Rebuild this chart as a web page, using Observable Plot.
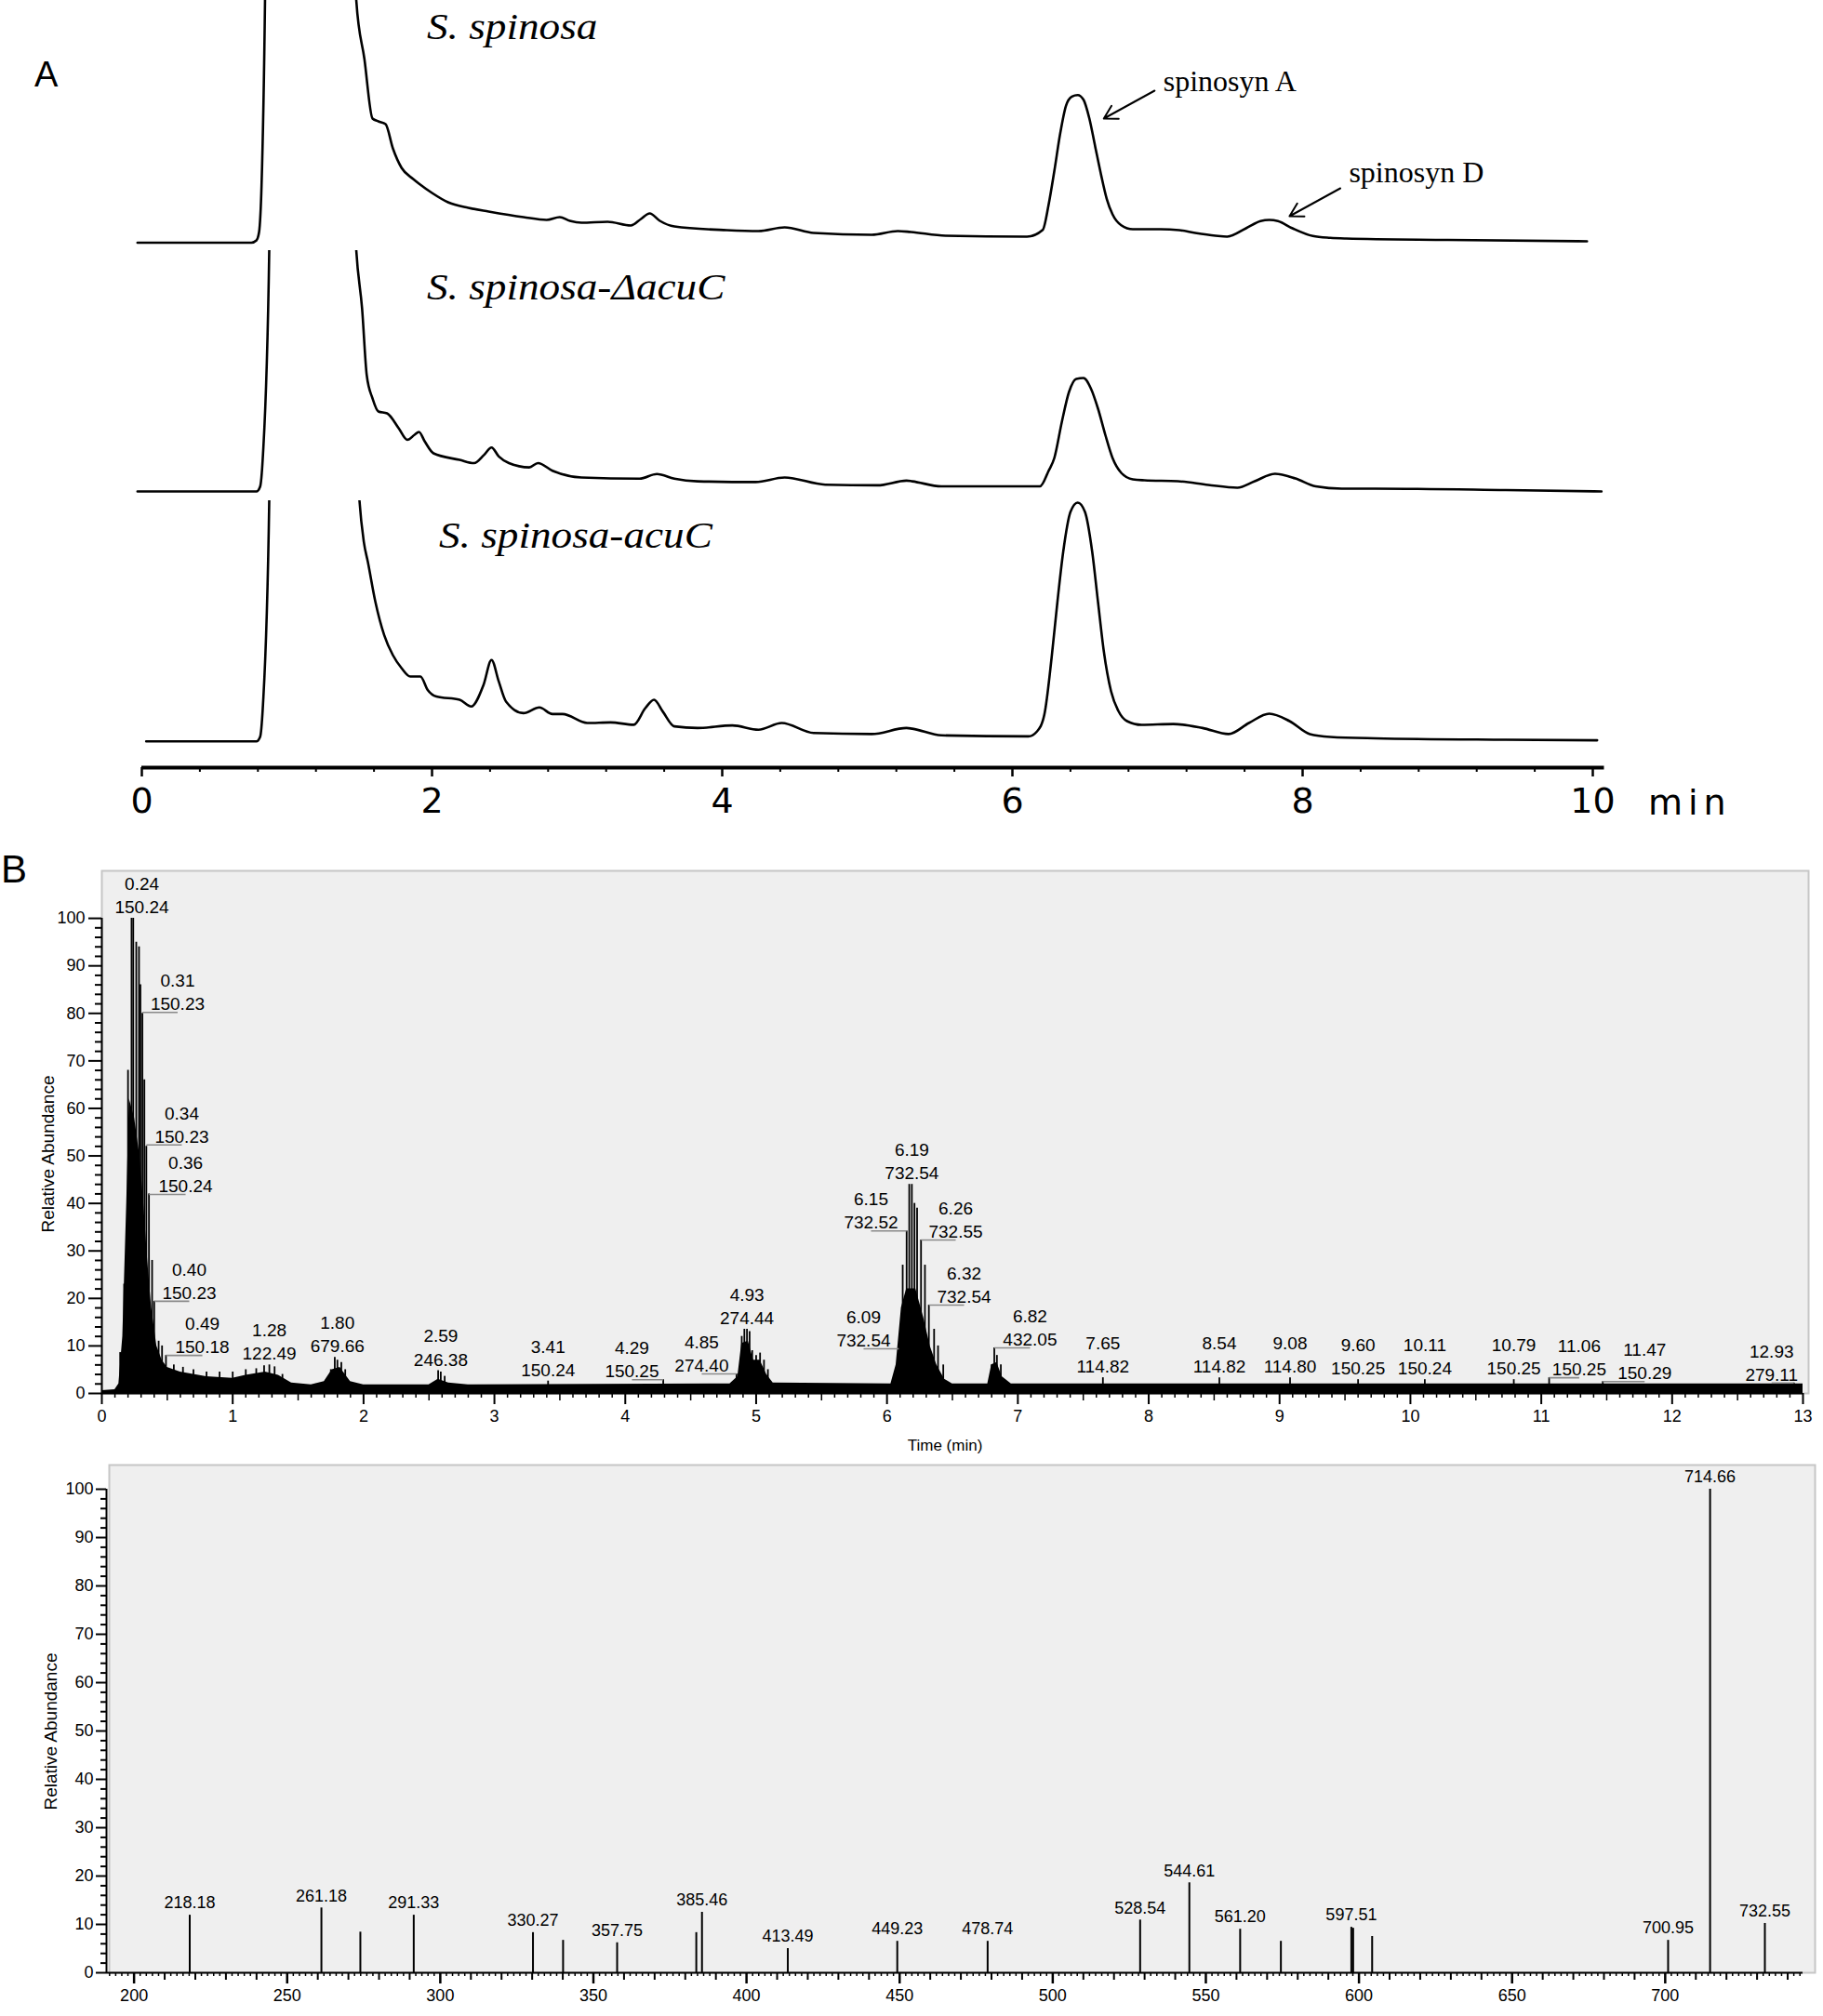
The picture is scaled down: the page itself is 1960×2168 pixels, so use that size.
<!DOCTYPE html>
<html>
<head>
<meta charset="utf-8">
<script src="https://cdn.jsdelivr.net/npm/d3@7"></script>
<script src="https://cdn.jsdelivr.net/npm/@observablehq/plot@0.6"></script>
<style>
html, body { margin: 0; padding: 0; background: #fff; }
#root { position: relative; width: 1960px; height: 2168px; overflow: hidden; background: #fff; }
#root svg { position: absolute; }
.lbl { position: absolute; white-space: nowrap; line-height: 1; color: #000; }
</style>
</head>
<body>
<div id="root"></div>
<script>
// ---------------- Panel A data (HPLC traces) ----------------
const traceNames = ["S. spinosa", "S. spinosa-\u0394acuC", "S. spinosa-acuC"];

const trace1Time = [-0.03,0.755,0.79,0.808,0.825,0.849,0.87,1.40,1.478,1.534,1.59,1.63,1.68,1.73,1.79,1.87,1.91,2.0,2.11,2.25,2.39,2.63,2.79,2.88,2.95,3.03,3.21,3.37,3.44,3.50,3.57,3.67,4.03,4.25,4.43,4.63,5.03,5.21,5.30,5.54,6.10,6.209,6.249,6.289,6.329,6.369,6.41,6.45,6.49,6.53,6.57,6.61,6.65,6.69,6.75,6.83,7.02,7.15,7.26,7.40,7.48,7.61,7.71,7.77,7.83,7.93,8.07,8.19,8.30,9.0,9.96];
const trace1Signal = [-1.5,-1.5,1,10,60,259,600,600,259,196,132,129,126,100,79,67,62,52,42,36,32,26,23,26,22,20,21,17,24,30,22,16,12,11,15,9,7,11,10,6,5,12.3,39,75.7,115.7,145.7,155.7,157.3,152.3,132.3,102.3,72.3,45.7,29,17.3,13,13,12,9,6,5,14,21.7,23,21.7,14,5.7,3.7,3,1.5,0];

const trace2Time = [-0.03,0.79,0.815,0.835,0.878,0.90,1.40,1.478,1.518,1.55,1.59,1.63,1.69,1.77,1.83,1.88,1.91,1.95,2.01,2.19,2.29,2.359,2.41,2.46,2.53,2.67,2.73,2.83,3.03,3.43,3.55,3.67,3.83,4.23,4.43,4.71,5.07,5.27,5.31,5.51,6.19,6.249,6.289,6.341,6.39,6.44,6.49,6.54,6.59,6.64,6.69,6.75,6.83,6.91,7.14,7.35,7.55,7.67,7.81,7.95,8.09,8.27,8.5,9.4,10.06];
const trace2Signal = [0,0,5,40,259,600,600,259,196.6,125,100,86,84,68,55.5,61,64,53.7,41,34,30.5,39.4,47.3,37.6,30.5,25.9,30.5,22.3,15,13.7,18.7,13.7,10.9,10.1,15,7.3,6.6,11.6,10.9,5.5,5.5,22,36,75,107,121,122,111,89,61,36,20,13,12,11,7,4,11,19,14,5.5,3,3,1.5,0];

const trace3Time = [0.03,0.79,0.815,0.835,0.878,0.90,1.42,1.50,1.53,1.558,1.61,1.67,1.73,1.79,1.85,1.92,1.97,2.03,2.19,2.27,2.355,2.41,2.46,2.51,2.63,2.74,2.83,2.90,3.07,3.23,3.39,3.47,3.53,3.59,3.67,3.83,4.07,4.25,4.41,4.63,5.03,5.27,5.31,5.51,6.11,6.17,6.22,6.27,6.31,6.35,6.40,6.45,6.50,6.55,6.59,6.63,6.68,6.73,6.79,6.89,7.11,7.31,7.49,7.63,7.77,7.91,8.05,8.19,8.5,9.4,10.03];
const trace3Signal = [0.3,0.3,5,40,259,600,600,259,214.6,193,150,114.6,93,79,70,70,55.6,48.5,45,37.8,61,87.8,64.6,43,30.6,36.7,29.6,29.6,20,20.6,18.1,36,45,32.4,16.4,14.6,17.4,12.8,20,9.2,8.1,14.6,13.9,6.7,5.6,11,29,90,150,204,247,257,247,204,150,97,54,33,22,18,18.9,14.6,8.1,20,30,22,8,5,3.5,2,1.4];

const peakNoteNames = ["spinosyn A", "spinosyn D"];
const peakNoteTime = [6.63, 7.91];       // arrow tip (retention time)
const peakNoteSignal = [132, 27];        // arrow tip (signal)
const aMajorTicks = [0, 2, 4, 6, 8, 10];

// ---------------- Panel B data (TIC chromatogram) ----------------
const ticSpikeTime = [0.14,0.17,0.20,0.227,0.24,0.263,0.284,0.295,0.31,0.325,0.34,0.36,0.384,0.40,0.434,0.46,0.49,0.55,0.62,0.7,0.8,0.9,1.0,1.1,1.18,1.24,1.28,1.32,1.38,1.75,1.78,1.80,1.83,1.86,2.57,2.59,2.62,3.41,4.29,4.85,4.89,4.91,4.93,4.95,4.97,5.00,5.03,5.06,5.09,6.09,6.12,6.15,6.17,6.19,6.21,6.23,6.26,6.29,6.32,6.36,6.39,6.43,6.80,6.82,6.84,6.87,7.65,8.54,9.08,9.60,10.11,10.79,11.06,11.47,12.93];
const ticSpikeAbundance = [8.6,23,68,100,100,95,94,86,80,66,52,42,28,19.4,11,10,8,6,5.5,5,4.5,4.5,4.5,5,5.2,5.8,6,5.6,4,5,7.6,7,6.5,5,4.8,4.5,3.6,2.6,2.9,4.1,12,13.5,13.5,13,9,8,8.5,7,5,9.4,27,34.2,44,44,40,39,32.3,27,18.6,13.5,10,6,6,9.6,8,6,3.3,3.3,3.3,2.9,2.9,2.9,3.3,2.5,2.2];

const ticFillTime = [0,0.10,0.13,0.16,0.19,0.21,0.25,0.29,0.32,0.35,0.38,0.42,0.46,0.50,0.60,0.80,1.00,1.10,1.25,1.35,1.45,1.60,1.70,1.76,1.82,1.90,2.00,2.50,2.57,2.65,2.80,4.80,4.86,4.89,4.94,4.98,5.03,5.08,5.13,6.03,6.07,6.11,6.15,6.22,6.28,6.33,6.38,6.44,6.50,6.77,6.80,6.84,6.88,6.95,13.0];
const ticFillAbundance = [0.6,0.8,2,12,40,62,58,50,40,28,18,10,7,5.5,4.5,3.5,3.2,3.8,4.5,3.8,2.2,1.8,2.5,5,5.5,2.5,1.8,1.8,3,2.2,1.8,2,3.5,10.5,11,7,7,4,2.2,2,6,18,22,22,16,10,6,3,2,2,6,6.5,3.5,2,2];

const ticLabelTime = ["0.24","0.31","0.34","0.36","0.40","0.49","1.28","1.80","2.59","3.41","4.29","4.85","4.93","6.09","6.15","6.19","6.26","6.32","6.82","7.65","8.54","9.08","9.60","10.11","10.79","11.06","11.47","12.93"];
const ticLabelMz = ["150.24","150.23","150.23","150.24","150.23","150.18","122.49","679.66","246.38","150.24","150.25","274.40","274.44","732.54","732.52","732.54","732.55","732.54","432.05","114.82","114.82","114.80","150.25","150.24","150.25","150.25","150.29","279.11"];
const ticLabelAbundance = [100,80.2,52.3,41.9,19.4,8.0,6.0,7.6,4.8,2.6,2.9,4.1,13.5,9.4,34.2,44,32.3,18.6,9.6,3.3,3.3,3.3,2.9,2.9,2.9,3.3,2.5,2.2];
// horizontal offset of each label from its peak (minutes); non-zero offsets get a leader line
const ticLabelShift = [0.066,0.269,0.271,0.28,0.268,0.278,0,0,0,0,-0.239,-0.266,0,-0.269,-0.272,0,0.265,0.269,0.273,0,0,0,0,0,0,0.23,0.32,-0.17];
const ticLabelLeader = [0,1,1,1,1,1,0,0,0,0,1,1,0,1,1,0,1,1,1,0,0,0,0,0,0,1,1,1];

// ---------------- Panel B data (mass spectrum) ----------------
const msMz = [218.18,261.18,273.9,291.33,330.27,340.1,357.75,383.6,385.46,413.49,449.23,478.74,528.54,544.61,561.20,574.5,597.51,598.1,604.3,700.95,714.66,732.55];
const msAbundance = [11.9,13.4,8.4,11.9,8.3,6.7,6.2,8.3,12.5,5.0,6.5,6.5,10.9,18.6,9.0,6.5,9.4,9.2,7.5,6.7,100,10.2];
const msLabel = ["218.18","261.18","","291.33","330.27","","357.75","","385.46","413.49","449.23","478.74","528.54","544.61","561.20","","597.51","","","700.95","714.66","732.55"];

// ---------------- Rendering ----------------
const W = 1960;
const SANS = "'Liberation Sans', Arial, Helvetica, sans-serif";
const SERIF = "'Liberation Serif', 'Times New Roman', Times, serif";
const WIDE = "'DejaVu Sans', Verdana, sans-serif";
const root = document.getElementById("root");

function place(el, left, top) {
  el.style.position = "absolute";
  el.style.left = left + "px";
  el.style.top = top + "px";
  root.appendChild(el);
}
function addLabel(text, left, top, css) {
  const d = document.createElement("div");
  d.className = "lbl";
  d.textContent = text;
  d.style.left = left + "px";
  d.style.top = top + "px";
  Object.assign(d.style, css || {});
  root.appendChild(d);
  return d;
}

// Panel A: three stacked traces
const aX = {domain: [-0.05, 10.1], axis: null};
const aMarginLeft = 144.2, aMarginRight = 232.4;
const traceTimes = [trace1Time, trace2Time, trace3Time];
const traceSignals = [trace1Signal, trace2Signal, trace3Signal];
const notes = peakNoteNames.map((name, i) => ({
  name,
  x2: peakNoteTime[i], y2: peakNoteSignal[i],
  x1: peakNoteTime[i] + 0.35, y1: peakNoteSignal[i] + 30,
  tx: peakNoteTime[i] + 0.41, ty: peakNoteSignal[i] + (i === 0 ? 40 : 47)
}));

traceNames.forEach((name, i) => {
  const rows = traceTimes[i].map((t, j) => ({t, v: traceSignals[i][j]}));
  const marks = [
    Plot.line(rows, {x: "t", y: "v", curve: "monotone-x", stroke: "#000", strokeWidth: 2.6, clip: true})
  ];
  if (i === 0) {
    marks.push(Plot.arrow(notes, {x1: "x1", y1: "y1", x2: "x2", y2: "y2", stroke: "#000", strokeWidth: 2, headLength: 12}));
    marks.push(Plot.text(notes, {x: "tx", y: "ty", text: "name", textAnchor: "start", lineAnchor: "middle",
      fontSize: 32, fontFamily: SERIF, fill: "#000"}));
  }
  const svg = Plot.plot({
    width: W, height: 269, marginTop: 0, marginBottom: 0,
    marginLeft: aMarginLeft, marginRight: aMarginRight,
    x: aX, y: {domain: [-10, 259], axis: null},
    style: {background: "transparent", overflow: "visible"},
    marks
  });
  place(svg, 0, 269 * i);
});

// Panel A time axis
{
  const minor = d3.range(0, 26).map(d => +(d * 0.4).toFixed(1)).filter(d => !aMajorTicks.includes(d));
  const svg = Plot.plot({
    width: W, height: 90, marginTop: 0, marginBottom: 72,
    marginLeft: aMarginLeft, marginRight: aMarginRight,
    x: {domain: [-0.05, 10.1]}, y: {domain: [0, 1], axis: null},
    style: {background: "transparent", overflow: "visible", fontFamily: WIDE},
    marks: [
      Plot.ruleY([0], {x1: () => 0, x2: () => 10.08, stroke: "#000", strokeWidth: 4}),
      Plot.axisX({ticks: minor, tickSize: 5, tickFormat: () => "", strokeWidth: 2, label: null}),
      Plot.axisX({ticks: aMajorTicks, tickSize: 10, tickPadding: 12, fontSize: 38, strokeWidth: 2.5, label: null, tickFormat: d => String(d)})
    ]
  });
  place(svg, 0, 807);
}

// Panel B: TIC chromatogram
{
  const spikes = ticSpikeTime.map((t, i) => ({t, v: ticSpikeAbundance[i]}));
  const fill = ticFillTime.map((t, i) => ({t, v: ticFillAbundance[i]}));
  const labels = ticLabelTime.map((s, i) => ({
    t: +s, v: ticLabelAbundance[i], lx: +s + ticLabelShift[i],
    leader: ticLabelLeader[i] === 1, text: s + "\n" + ticLabelMz[i]
  }));
  const minorX = d3.range(0, 131).filter(d => d % 10 !== 0 && d % 5 !== 0).map(d => d / 10);
  const halfX = d3.range(0, 13).map(d => d + 0.5);
  const minorY = d3.range(0, 101, 2).filter(d => d % 10 !== 0);
  const svg = Plot.plot({
    width: W, height: 640, marginTop: 16, marginBottom: 62, marginLeft: 109, marginRight: 22,
    x: {domain: [0, 13]}, y: {domain: [0, 110]},
    style: {background: "transparent", overflow: "visible", fontFamily: SANS},
    marks: [
      Plot.frame({fill: "#efefef", stroke: "#c6c6c6", strokeWidth: 2, insetRight: -6}),
      Plot.areaY(fill, {x: "t", y: "v", fill: "#000", curve: "linear"}),
      Plot.ruleX(spikes, {x: "t", y1: 0, y2: "v", stroke: "#000", strokeWidth: 1.8}),
      Plot.link(labels.filter(d => d.leader), {x1: "t", x2: "lx", y1: "v", y2: "v", stroke: "#8a8a8a", strokeWidth: 1.6}),
      Plot.text(labels.filter(d => !d.leader), {x: "lx", y: "v", text: "text", dy: -26, lineAnchor: "middle",
        lineHeight: 1.32, fontSize: 19, fontFamily: SANS, fill: "#000"}),
      Plot.text(labels.filter(d => d.leader), {x: "lx", y: "v", text: "text", dy: -23, lineAnchor: "middle",
        lineHeight: 1.32, fontSize: 19, fontFamily: SANS, fill: "#000"}),
      Plot.ruleY([0], {stroke: "#000", strokeWidth: 2}),
      Plot.ruleX([0], {y1: 0, y2: 100, stroke: "#000", strokeWidth: 2}),
      Plot.axisY({ticks: d3.range(0, 101, 10), tickSize: 14, tickPadding: 4, fontSize: 18, strokeWidth: 2, label: null}),
      Plot.axisY({ticks: minorY, tickSize: 7, tickFormat: () => "", strokeWidth: 2, label: null}),
      Plot.axisX({ticks: d3.range(0, 14), tickSize: 12, tickPadding: 6, fontSize: 18, strokeWidth: 2, label: null}),
      Plot.axisX({ticks: halfX, tickSize: 8, tickFormat: () => "", strokeWidth: 1.5, label: null}),
      Plot.axisX({ticks: minorX, tickSize: 5, tickFormat: () => "", strokeWidth: 1.5, label: null})
    ]
  });
  place(svg, 0, 920);
}

// Panel B: mass spectrum
{
  const peaks = msMz.map((mz, i) => ({mz, v: msAbundance[i], label: msLabel[i]}));
  const majorX = d3.range(200, 701, 50);
  const medX = d3.range(200, 745, 10).filter(d => d % 50 !== 0);
  const minorX = d3.range(192, 745, 2).filter(d => d % 10 !== 0);
  const minorY = d3.range(0, 101, 2).filter(d => d % 10 !== 0);
  const svg = Plot.plot({
    width: W, height: 608, marginTop: 15, marginBottom: 47, marginLeft: 114, marginRight: 22,
    x: {domain: [191, 745]}, y: {domain: [0, 105]},
    style: {background: "transparent", overflow: "visible", fontFamily: SANS},
    marks: [
      Plot.frame({fill: "#efefef", stroke: "#c6c6c6", strokeWidth: 2, insetLeft: 3, insetRight: -13}),
      Plot.ruleX(peaks, {x: "mz", y1: 0, y2: "v", stroke: "#000", strokeWidth: 2}),
      Plot.text(peaks.filter(d => d.label), {x: "mz", y: "v", text: "label", dy: -13, lineAnchor: "middle",
        fontSize: 18, fontFamily: SANS, fill: "#000"}),
      Plot.ruleY([0], {stroke: "#000", strokeWidth: 2}),
      Plot.ruleX([191], {y1: 0, y2: 100, stroke: "#000", strokeWidth: 2}),
      Plot.axisY({ticks: d3.range(0, 101, 10), tickSize: 11, tickPadding: 3, fontSize: 18, strokeWidth: 2, label: null}),
      Plot.axisY({ticks: minorY, tickSize: 6, tickFormat: () => "", strokeWidth: 2, label: null}),
      Plot.axisX({ticks: majorX, tickSize: 12, tickPadding: 6, fontSize: 18, strokeWidth: 2.5, label: null}),
      Plot.axisX({ticks: medX, tickSize: 8, tickFormat: () => "", strokeWidth: 2, label: null}),
      Plot.axisX({ticks: minorX, tickSize: 4, tickFormat: () => "", strokeWidth: 1.5, label: null})
    ]
  });
  place(svg, 0, 1560);
}

// Page-level text
const stretch = {transform: "scaleX(1.13)", transformOrigin: "0 0"};
addLabel("A", 37, 61, {fontFamily: SANS, fontSize: "38px"});
addLabel("B", 1, 914, {fontFamily: SANS, fontSize: "42px"});
addLabel(traceNames[0], 459, 9, Object.assign({fontFamily: SERIF, fontStyle: "italic", fontSize: "40px"}, stretch));
addLabel(traceNames[1], 459, 289, Object.assign({fontFamily: SERIF, fontStyle: "italic", fontSize: "40px"}, stretch));
addLabel(traceNames[2], 472, 556, Object.assign({fontFamily: SERIF, fontStyle: "italic", fontSize: "40px"}, stretch));
addLabel("min", 1772, 844, {fontFamily: WIDE, fontSize: "38px", letterSpacing: "6px"});
addLabel("Time (min)", 1016, 1554, {fontFamily: SANS, fontSize: "17px", transform: "translate(-50%,-50%)"});
addLabel("Relative Abundance", 51, 1241, {fontFamily: SANS, fontSize: "19px", transform: "translate(-50%,-50%) rotate(-90deg)"});
addLabel("Relative Abundance", 54, 1862, {fontFamily: SANS, fontSize: "19px", transform: "translate(-50%,-50%) rotate(-90deg)"});
</script>
</body>
</html>
